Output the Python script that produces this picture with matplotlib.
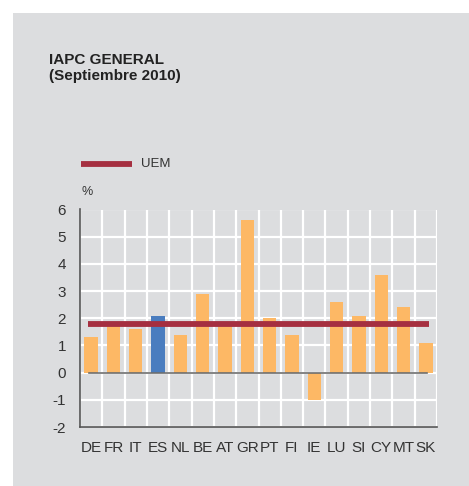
import matplotlib
matplotlib.use("Agg")
import matplotlib.pyplot as plt
from matplotlib.patches import Rectangle
from matplotlib.lines import Line2D

categories = ["DE", "FR", "IT", "ES", "NL", "BE", "AT", "GR", "PT", "FI", "IE", "LU", "SI", "CY", "MT", "SK"]
values = [1.3, 1.8, 1.6, 2.1, 1.4, 2.9, 1.8, 5.6, 2.0, 1.4, -1.0, 2.6, 2.1, 3.6, 2.4, 1.1]
highlight = "ES"
uem_value = 1.8
yticks = [-2, -1, 0, 1, 2, 3, 4, 5, 6]

W, H = 469, 486
BG = "#dcdddf"
ORANGE = "#fdb865"
BLUE = "#4a7dbf"
RED = "#a52f40"
TXT = "#333333"

plt.rcParams['font.family'] = ['Liberation Sans', 'DejaVu Sans']

fig = plt.figure(figsize=(W / 100, H / 100), dpi=100)
fig.patch.set_facecolor("white")
fig.patches.append(Rectangle((13 / W, 0), 1 - 13 / W, 1 - 13 / H, transform=fig.transFigure,
                             facecolor=BG, edgecolor="none", zorder=-5))

left, right, top, bottom = 80, 437, 209.5, 427
ax = fig.add_axes([left / W, 1 - bottom / H, (right - left) / W, (bottom - top) / H])
ax.set_facecolor(BG)

x = list(range(len(categories)))
colors = [BLUE if c == highlight else ORANGE for c in categories]
ax.bar(x, values, width=0.6, color=colors, zorder=3)

ax.set_xlim(-0.5, len(categories) - 0.5)
ax.set_ylim(-2, 6)
ax.set_yticks(yticks)
ax.set_yticklabels([str(v) for v in yticks])
ax.set_xticks(x)
ax.set_xticklabels(categories)

for k in range(len(categories) + 1):
    ax.axvline(k - 0.5, color="white", lw=1.6, zorder=1)
for v in yticks:
    ax.axhline(v, color="white", lw=1.6, zorder=1)

ax.plot([-0.1, len(categories) - 1 + 0.05], [0, 0], color="#6e6e6e", lw=1.2, zorder=4)
ax.plot([-0.13, len(categories) - 1 + 0.15], [uem_value, uem_value], color=RED, lw=4.2,
        solid_capstyle="butt", zorder=5)

for s in ["top", "right"]:
    ax.spines[s].set_visible(False)
ax.spines["left"].set_color("#555555")
ax.spines["bottom"].set_color("#555555")
ax.spines["left"].set_linewidth(1.2)
ax.spines["bottom"].set_linewidth(1.2)
ax.spines["left"].set_zorder(6)
ax.spines["bottom"].set_zorder(6)

ax.tick_params(axis="both", length=0, labelsize=11, colors=TXT)
ax.tick_params(axis="y", pad=10)
ax.tick_params(axis="x", pad=10)

fig.text(49 / W, 1 - 53 / H, "IAPC GENERAL", fontsize=11, fontweight="bold", color="#222222",
         va="top", ha="left")
fig.text(49 / W, 1 - 69 / H, "(Septiembre 2010)", fontsize=11, fontweight="bold", color="#222222",
         va="top", ha="left")

fig.add_artist(Line2D([81 / W, 132 / W], [1 - 164 / H, 1 - 164 / H], transform=fig.transFigure,
                      color=RED, lw=4.2, solid_capstyle="butt"))
fig.text(141 / W, 1 - 164 / H, "UEM", fontsize=9.5, color=TXT, va="center", ha="left")
fig.text(81 / W, 1 - 192 / H, "%", fontsize=9, color=TXT, va="center", ha="left")

fig.savefig("out.png", dpi=100, facecolor=fig.get_facecolor())
